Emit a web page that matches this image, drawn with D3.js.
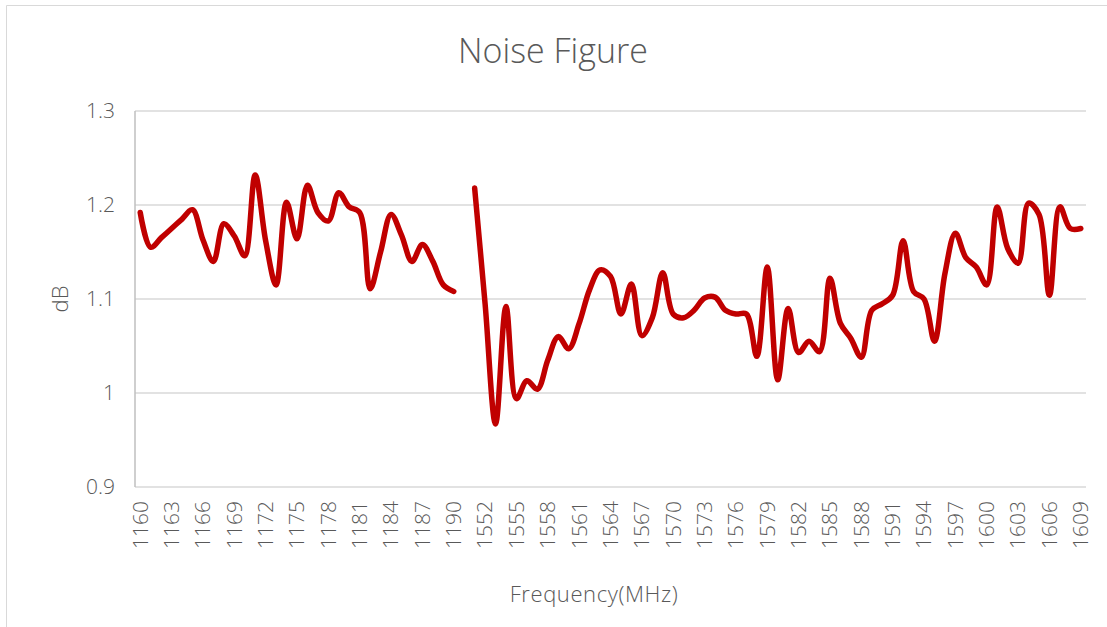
<!DOCTYPE html>
<html>
<head>
<meta charset="utf-8">
<script src="https://cdn.jsdelivr.net/npm/d3@7"></script>
<style>
  body { margin: 0; background: #fff; }
  svg text { font-family: "Open Sans", "Noto Sans", sans-serif; font-weight: 300; fill: #595959; }
</style>
</head>
<body>
<svg id="mainSvg" width="1107" height="627"></svg>
<script>
// frequencies (MHz), 1550 has no measurement so the line breaks there
var freqs = [1160, 1161, 1162, 1163, 1164, 1165, 1166, 1167, 1168, 1169,
  1170, 1171, 1172, 1173, 1174, 1175, 1176, 1177, 1178, 1179,
  1180, 1181, 1182, 1183, 1184, 1185, 1186, 1187, 1188, 1189, 1190,
  1550, 1551, 1552, 1553, 1554, 1555, 1556, 1557, 1558, 1559,
  1560, 1561, 1562, 1563, 1564, 1565, 1566, 1567, 1568, 1569,
  1570, 1571, 1572, 1573, 1574, 1575, 1576, 1577, 1578, 1579,
  1580, 1581, 1582, 1583, 1584, 1585, 1586, 1587, 1588, 1589,
  1590, 1591, 1592, 1593, 1594, 1595, 1596, 1597, 1598, 1599,
  1600, 1601, 1602, 1603, 1604, 1605, 1606, 1607, 1608, 1609];

var noiseFigure = [1.192, 1.155, 1.165, 1.175, 1.185, 1.195, 1.163, 1.140, 1.180, 1.167,
  1.146, 1.232, 1.162, 1.115, 1.203, 1.164, 1.221, 1.192, 1.183, 1.213,
  1.198, 1.192, 1.111, 1.150, 1.190, 1.168, 1.140, 1.158, 1.140, 1.115, 1.108,
  null, 1.218, 1.095, 0.967, 1.092, 0.994, 1.013, 1.004, 1.035, 1.060,
  1.047, 1.074, 1.110, 1.131, 1.124, 1.084, 1.116, 1.061, 1.080, 1.128,
  1.084, 1.080, 1.088, 1.101, 1.102, 1.088, 1.084, 1.084, 1.039, 1.134,
  1.014, 1.090, 1.043, 1.055, 1.044, 1.122, 1.074, 1.058, 1.038, 1.088,
  1.095, 1.104, 1.162, 1.108, 1.100, 1.055, 1.127, 1.170, 1.144, 1.134,
  1.115, 1.198, 1.154, 1.138, 1.202, 1.190, 1.104, 1.198, 1.175, 1.175];

var yTicks = [0.9, 1.0, 1.1, 1.2, 1.3];

var svg = d3.select("#mainSvg");
var plotLeft = 135, plotRight = 1086, plotTop = 111, plotBottom = 487;

// chart frame
svg.append("path").attr("d", "M6.5,627V5.5H1107").attr("fill", "none").attr("stroke", "#d9d9d9").attr("stroke-width", 1);

var x = d3.scaleBand().domain(freqs).range([plotLeft, plotRight]);
var y = d3.scaleLinear().domain([0.9, 1.3]).range([plotBottom, plotTop]);

// gridlines
svg.append("g").selectAll("line").data(yTicks).enter().append("line")
  .attr("x1", plotLeft).attr("x2", plotRight)
  .attr("y1", function(d) { return y(d); }).attr("y2", function(d) { return y(d); })
  .attr("stroke", "#d9d9d9").attr("stroke-width", 1.5);

svg.append("line").attr("x1", plotLeft).attr("x2", plotLeft).attr("y1", plotTop).attr("y2", plotBottom)
  .attr("stroke", "#bfbfbf").attr("stroke-width", 1.5);

// y axis
var yAxis = svg.append("g").attr("transform", "translate(" + plotLeft + ",0)")
  .call(d3.axisLeft(y).tickValues(yTicks).tickSize(0).tickPadding(20).tickFormat(d3.format("~g")));
yAxis.select(".domain").remove();
yAxis.selectAll("text").attr("font-size", 21).attr("font-family", null).attr("fill", "#595959");

// x axis, every third label
var shown = freqs.filter(function(d, i) { return i % 3 == 0; });
var xAxis = svg.append("g").attr("transform", "translate(0," + plotBottom + ")")
  .call(d3.axisBottom(x).tickValues(shown).tickSize(0));
xAxis.select(".domain").remove();
xAxis.selectAll("text")
  .attr("font-size", 21).attr("font-family", null).attr("fill", "#595959")
  .attr("transform", "rotate(-90)")
  .attr("x", -14).attr("y", 0).attr("dy", "0.35em")
  .style("text-anchor", "end");

// series
var line = d3.line()
  .defined(function(d) { return d.v != null; })
  .x(function(d) { return x(d.f) + x.bandwidth() / 2; })
  .y(function(d) { return y(d.v); })
  .curve(d3.curveCatmullRom.alpha(0.5));

var data = freqs.map(function(f, i) { return {f: f, v: noiseFigure[i]}; });
svg.append("path").datum(data).attr("d", line)
  .attr("fill", "none").attr("stroke", "#c00000").attr("stroke-width", 5.5)
  .attr("stroke-linejoin", "round").attr("stroke-linecap", "round");

// titles
svg.append("text").attr("x", 553).attr("y", 63).attr("text-anchor", "middle")
  .attr("font-size", 34).text("Noise Figure");
svg.append("text").attr("transform", "translate(68,299) rotate(-90)").attr("text-anchor", "middle")
  .attr("font-size", 22).text("dB");
svg.append("text").attr("x", 594).attr("y", 602).attr("text-anchor", "middle")
  .attr("font-size", 22).attr("letter-spacing", 0.6).text("Frequency(MHz)");
</script>
</body>
</html>
